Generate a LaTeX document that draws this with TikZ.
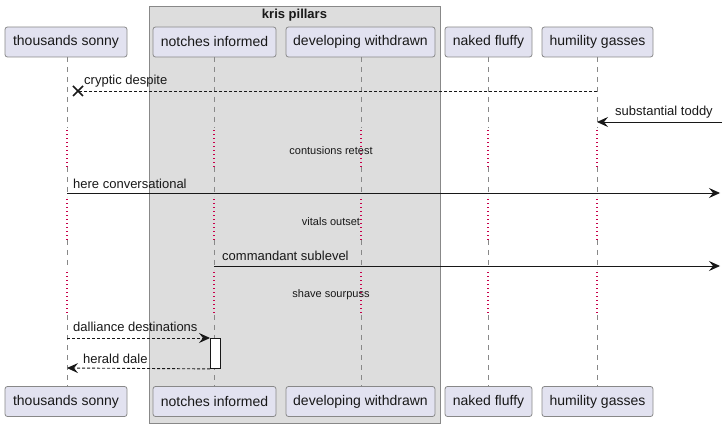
\documentclass[tikz,border=0pt]{standalone}
\usepackage{fontspec}
\setmainfont{Liberation Sans}
\usetikzlibrary{arrows.meta,calc}
\definecolor{partfill}{HTML}{E2E2F0}
\definecolor{partline}{HTML}{888888}
\definecolor{groupfill}{HTML}{DDDDDD}
\definecolor{delayred}{HTML}{C8004A}
\definecolor{ink}{HTML}{181818}
\tikzset{
  part/.style={draw=partline, fill=partfill, rounded corners=2.5pt, line width=0.8pt,
    minimum height=30pt, inner sep=0pt, font=\fontsize{14}{16}\selectfont, text=ink},
  life/.style={draw=partline, dash pattern=on 5pt off 5pt, line width=0.8pt},
  delaydot/.style={fill=delayred, draw=none},
  msg/.style={draw=ink, line width=0.9pt, -{Stealth[length=11pt,width=10pt,inset=4pt]}},
  dmsg/.style={msg, dash pattern=on 3pt off 2pt},
  lbl/.style={font=\fontsize{13}{15}\selectfont, text=ink, inner sep=0pt, anchor=base west},
  dlbl/.style={font=\fontsize{11}{13}\selectfont, text=ink, inner sep=0pt},
}
\begin{document}
\begin{tikzpicture}[x=1pt,y=-1pt]
\useasboundingbox (0,0) rectangle (725,427);
% group box
\node[draw=partline, fill=groupfill, line width=0.8pt, minimum width=291pt, minimum height=417pt, anchor=north west, inner sep=0pt] (grp) at (149,6) {};
\node[font=\bfseries\fontsize{13}{15}\selectfont, text=ink] (grptitle) at (294.5,15) {kris pillars};
% participants top
\node[part, minimum width=122pt] (a1) at (66,42) {thousands sonny};
\node[part, minimum width=123pt] (b1) at (214.5,42) {notches informed};
\node[part, minimum width=149pt] (c1) at (360.5,42) {developing withdrawn};
\node[part, minimum width=87pt] (d1) at (488.5,42) {naked fluffy};
\node[part, minimum width=111pt] (e1) at (597.5,42) {humility gasses};
% participants bottom
\node[part, minimum width=122pt] (a2) at (66,401.5) {thousands sonny};
\node[part, minimum width=123pt] (b2) at (214.5,401.5) {notches informed};
\node[part, minimum width=149pt] (c2) at (360.5,401.5) {developing withdrawn};
\node[part, minimum width=87pt] (d2) at (488.5,401.5) {naked fluffy};
\node[part, minimum width=111pt] (e2) at (597.5,401.5) {humility gasses};
% lifelines
\foreach \x in {67,214,361,488,597}{
  \draw[life] (\x,57) -- (\x,128);
  \draw[life] (\x,167) -- (\x,197);
  \draw[life] (\x,240) -- (\x,270);
  \draw[life] (\x,315) -- (\x,386);
  \foreach \y in {130,134,...,166}{\fill[delaydot] (\x-0.6,\y) rectangle (\x+0.6,\y+1.2);}
  \foreach \y in {199,203,...,239}{\fill[delaydot] (\x-0.6,\y) rectangle (\x+0.6,\y+1.2);}
  \foreach \y in {272,276,...,314}{\fill[delaydot] (\x-0.6,\y) rectangle (\x+0.6,\y+1.2);}
}
% delay texts
\node[dlbl] (dl1) at (331,151) {contusions retest};
\node[dlbl] (dl2) at (331,222) {vitals outset};
\node[dlbl] (dl3) at (331,295) {shave sourpuss};
% message 1
\coordinate (m1s) at (597,91);
\coordinate (m1x) at (78,91);
\draw[draw=ink, line width=0.9pt, dash pattern=on 3pt off 2pt] (m1s) -- (m1x);
\draw[draw=ink, line width=1.6pt] ($(m1x)+(-5,-5)$) -- ($(m1x)+(5,5)$) ($(m1x)+(-5,5)$) -- ($(m1x)+(5,-5)$);
\node[lbl] (l1) at (84,85) {cryptic despite};
% message 2
\coordinate (m2s) at (722,122);
\coordinate (m2e) at (597,122);
\draw[msg] (m2s) -- (m2e);
\node[lbl] (l2) at (615,116) {substantial toddy};
% message 3
\coordinate (m3s) at (67,193);
\coordinate (m3e) at (720,193);
\draw[msg] (m3s) -- (m3e);
\node[lbl] (l3) at (73,189) {here conversational};
% message 4
\coordinate (m4s) at (214,266);
\coordinate (m4e) at (720,266);
\draw[msg] (m4s) -- (m4e);
\node[lbl] (l4) at (222,261) {commandant sublevel};
% activation
\node[draw=ink, fill=white, line width=0.9pt, minimum width=10pt, minimum height=30pt, inner sep=0pt, anchor=north west] (act) at (210,338) {};
% message 5
\coordinate (m5s) at (67,338);
\draw[dmsg] (m5s) -- (act.north west);
\node[lbl] (l5) at (73,332) {dalliance destinations};
% message 6
\coordinate (m6e) at (67,368);
\draw[dmsg] (act.south west) -- (m6e);
\node[lbl] (l6) at (83,363) {herald dale};
\end{tikzpicture}
\end{document}
